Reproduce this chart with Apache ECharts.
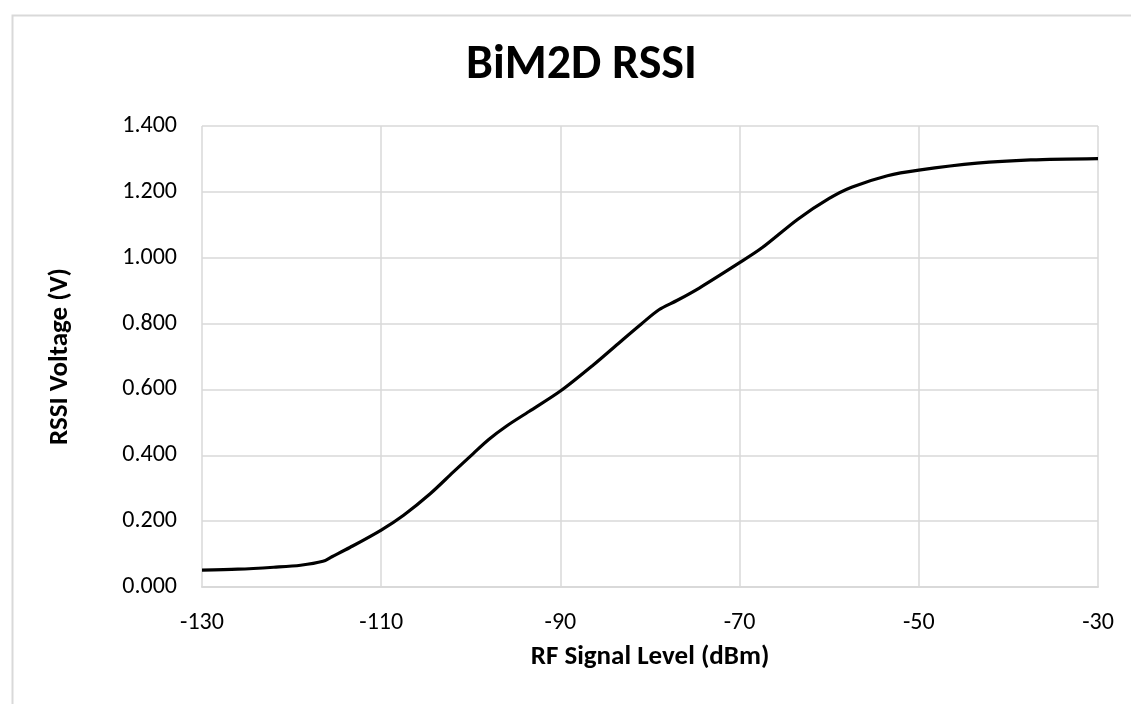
<!DOCTYPE html>
<html>
<head>
<meta charset="utf-8">
<script src="https://cdn.jsdelivr.net/npm/echarts@6/dist/echarts.min.js"></script>
<style>html,body{margin:0;padding:0;background:#fff;}#c{width:1131px;height:704px;}</style>
</head>
<body>
<div id="c"></div>
<script>
const rfLevel = [-130,-126,-122,-119,-116.5,-115.5,-113.5,-110,-107.5,-104.5,-102,-99.7,-98,-96,-93.5,-90,-86.3,-83.3,-81,-79,-77,-74.5,-70,-67.5,-63.5,-60,-57.5,-53.5,-50,-43.5,-37.5,-30];
const rssiVoltage = [0.051,0.054,0.060,0.066,0.078,0.092,0.120,0.173,0.218,0.284,0.348,0.406,0.448,0.489,0.533,0.595,0.675,0.745,0.798,0.842,0.870,0.908,0.985,1.030,1.117,1.180,1.214,1.249,1.266,1.287,1.297,1.301];
const chartTitle = 'BiM2D RSSI';
const xTitle = 'RF Signal Level (dBm)';
const yTitle = 'RSSI Voltage (V)';

const FONT = 'Carlito, Lato, "Noto Sans", sans-serif';
const chart = echarts.init(document.getElementById('c'));
chart.setOption({
  animation: false,
  backgroundColor: '#fff',
  graphic: [{
    type: 'rect', left: 10, top: 13, shape: {width: 1200, height: 800},
    style: {fill: 'none', stroke: '#d9d9d9', lineWidth: 2}, silent: true
  }],
  title: {
    text: chartTitle, left: 461, top: 37,
    textStyle: {fontFamily: FONT, fontSize: 48, fontWeight: 'bold', color: '#000'}
  },
  grid: {left: 202, right: 33, top: 126, bottom: 117},
  xAxis: {
    type: 'value', min: -130, max: -30, interval: 20,
    name: xTitle, nameLocation: 'middle', nameGap: 57,
    nameTextStyle: {fontFamily: FONT, fontSize: 27, fontWeight: 'bold', color: '#000'},
    axisLine: {show: true, lineStyle: {color: '#d9d9d9', width: 2}},
    axisTick: {show: false},
    axisLabel: {fontFamily: FONT, fontSize: 24, color: '#000', margin: 24},
    splitLine: {show: true, lineStyle: {color: '#d9d9d9', width: 1.5}}
  },
  yAxis: {
    type: 'value', min: 0, max: 1.4, interval: 0.2,
    name: yTitle, nameLocation: 'middle', nameGap: 128, nameRotate: 90,
    nameTextStyle: {fontFamily: FONT, fontSize: 27, fontWeight: 'bold', color: '#000'},
    axisLine: {show: false},
    axisTick: {show: false},
    axisLabel: {fontFamily: FONT, fontSize: 24, color: '#000', margin: 25, formatter: v => v.toFixed(3)},
    splitLine: {show: true, lineStyle: {color: '#d9d9d9', width: 1.5}}
  },
  series: [{
    type: 'line',
    data: rfLevel.map((x, i) => [x, rssiVoltage[i]]),
    smooth: 0.3,
    showSymbol: false,
    lineStyle: {color: '#000', width: 3.2}
  }]
});
</script>
</body>
</html>
